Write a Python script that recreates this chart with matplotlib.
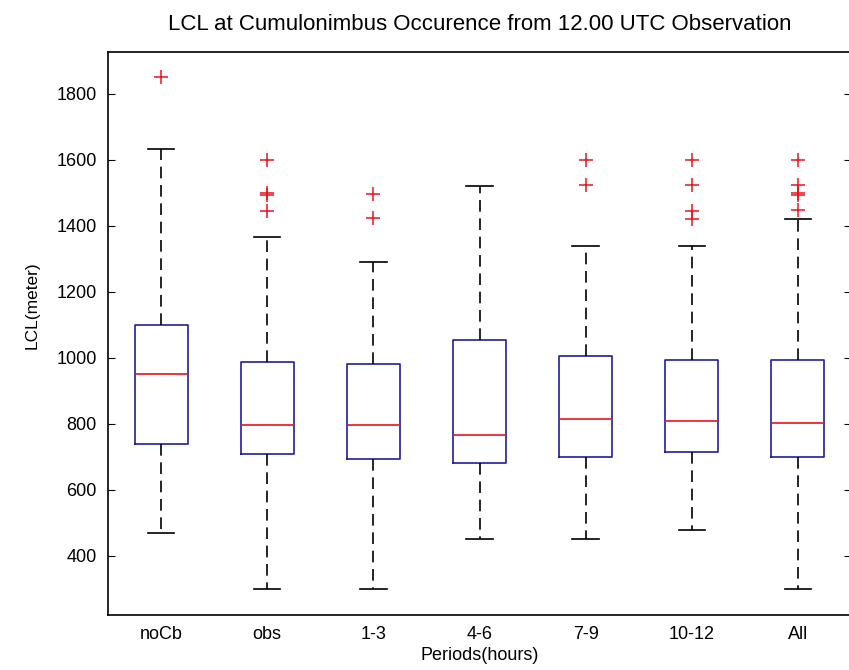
import matplotlib
matplotlib.use("Agg")
from matplotlib import pyplot as plt

# values (meters)
labels = ["noCb", "obs", "1-3", "4-6", "7-9", "10-12", "All"]
q1 = [740, 708, 693, 681, 699, 714, 699]
med = [950, 798, 798, 766, 814, 808, 802]
q3 = [1101, 987, 981, 1055, 1007, 993, 993]
whislo = [470, 300, 300, 451, 451, 479, 300]
whishi = [1632, 1366, 1290, 1521, 1338, 1338, 1422]
fliers = [
    [1851],
    [1600, 1500, 1493, 1445],
    [1497, 1424],
    [],
    [1600, 1524],
    [1600, 1524, 1446, 1421],
    [1600, 1525, 1500, 1495, 1447],
]

plt.rcParams["font.family"] = ["Liberation Sans", "DejaVu Sans"]

stats = []
for i, name in enumerate(labels):
    stats.append({
        "label": name,
        "q1": q1[i], "med": med[i], "q3": q3[i],
        "whislo": whislo[i], "whishi": whishi[i],
        "fliers": fliers[i],
    })

fig = plt.figure(figsize=(8.49, 6.70), dpi=100)
ax = fig.add_axes([108 / 849, 1 - 615 / 670, 743 / 849, 563 / 670])

box_col = "#1f1f9a"
ax.bxp(
    stats,
    positions=range(1, len(labels) + 1),
    widths=0.5,
    capwidths=0.25,
    boxprops=dict(color=box_col, linewidth=1.2),
    medianprops=dict(color="#e8141c", linewidth=1.2),
    whiskerprops=dict(color="black", linestyle=(0, (7, 4)), linewidth=1.2),
    capprops=dict(color="black", linewidth=1.2),
    flierprops=dict(marker="+", markeredgecolor="#e8141c", markersize=10,
                    markeredgewidth=1.1, linestyle="none"),
)

ax.set_xlim(0.5, 7.5)
ax.set_ylim(221, 1927)
ax.set_yticks([400, 600, 800, 1000, 1200, 1400, 1600, 1800])
ax.tick_params(axis="y", direction="in", length=5, right=True,
               labelsize=13, pad=8)
ax.tick_params(axis="x", length=0, labelsize=13, pad=8)
for s in ax.spines.values():
    s.set_linewidth(1.2)

ax.set_title("LCL at Cumulonimbus Occurence from 12.00 UTC Observation",
             fontsize=16, pad=16)
ax.set_xlabel("Periods(hours)", fontsize=13, labelpad=3)
ax.set_ylabel("LCL(meter)", fontsize=12.5)
ax.yaxis.set_label_coords(-0.092, 0.55)

fig.savefig("out.png", dpi=100)
